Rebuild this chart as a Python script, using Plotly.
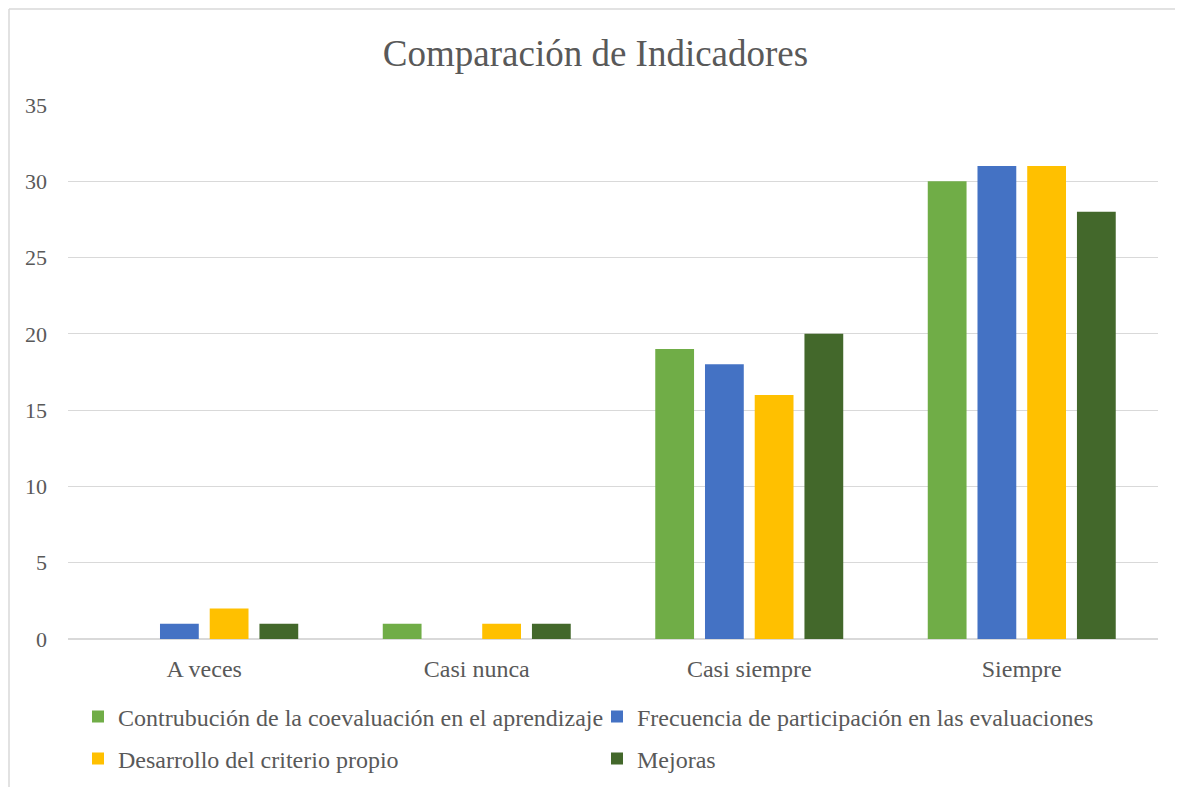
import plotly.graph_objects as go

categories = ['A veces', 'Casi nunca', 'Casi siempre', 'Siempre']
contribucion = [0, 1, 19, 30]
frecuencia = [1, 0, 18, 31]
desarrollo = [2, 1, 16, 31]
mejoras = [1, 1, 20, 28]

series_names = ['Contrubución de la coevaluación en el aprendizaje',
                'Frecuencia de participación en las evaluaciones',
                'Desarrollo del criterio propio',
                'Mejoras']
series_colors = ['#70AD47', '#4472C4', '#FFC000', '#43682B']
legend_ids = ['legend', 'legend', 'legend2', 'legend2']

# page body has an 8px margin, so the figure is 8px smaller than the window
W, H = 1175, 779
ML, MR, MT, MB = 60, 25, 97, 148
PW = W - ML - MR
PH = H - MT - MB

font_family = 'Liberation Serif, Times New Roman, serif'
txt = '#595959'

fig = go.Figure()
for name, vals, col, lg in zip(series_names, [contribucion, frecuencia, desarrollo, mejoras],
                               series_colors, legend_ids):
    fig.add_trace(go.Bar(x=categories, y=vals, name=name, marker_color=col,
                         marker_line_width=0, legend=lg))

# light frame (only top and left edges are visible in the reference)
fx0 = (1 - ML) / PW
fx1 = (W + 20 - ML) / PW
fy1 = (MT + PH - 1) / PH
fy0 = (MT + PH - (H + 20)) / PH
frame = dict(color='#D9D9D9', width=1.5)
fig.add_shape(type='line', xref='paper', yref='paper', x0=fx0, x1=fx1, y0=fy1, y1=fy1,
              line=frame, layer='below')
fig.add_shape(type='line', xref='paper', yref='paper', x0=fx0, x1=fx0, y0=fy0, y1=fy1,
              line=frame, layer='below')

leg_common = dict(orientation='h', xref='container', yref='container',
                  xanchor='left', yanchor='middle',
                  entrywidth=474, entrywidthmode='pixels',
                  font=dict(size=24, color=txt, family=font_family),
                  itemwidth=30, bgcolor='rgba(0,0,0,0)')

fig.update_layout(
    width=W, height=H,
    margin=dict(l=ML, r=MR, t=MT, b=MB, autoexpand=False),
    plot_bgcolor='white', paper_bgcolor='white',
    font=dict(family=font_family, color=txt, size=24),
    title=dict(text='Comparación de Indicadores', x=0.5, xanchor='center',
               xref='container', y=1 - 45 / H, yanchor='middle',
               font=dict(size=37, color=txt, family=font_family)),
    barmode='group', bargap=0.27, bargroupgap=0.22,
    xaxis=dict(showgrid=False, showline=False, ticks='', automargin=False,
               tickfont=dict(size=24, color=txt), ticklabelstandoff=13),
    yaxis=dict(range=[0, 35], dtick=5, showgrid=True, gridcolor='#D9D9D9', gridwidth=1,
               zeroline=True, zerolinecolor='#D9D9D9', zerolinewidth=1.5, automargin=False,
               showline=False, ticks='', tickfont=dict(size=22, color=txt), ticklabelstandoff=20),
    legend=dict(x=70 / W, y=1 - 709 / H, **leg_common),
    legend2=dict(x=70 / W, y=1 - 751 / H, **leg_common),
    showlegend=True,
)

fig.write_html('out.html')
